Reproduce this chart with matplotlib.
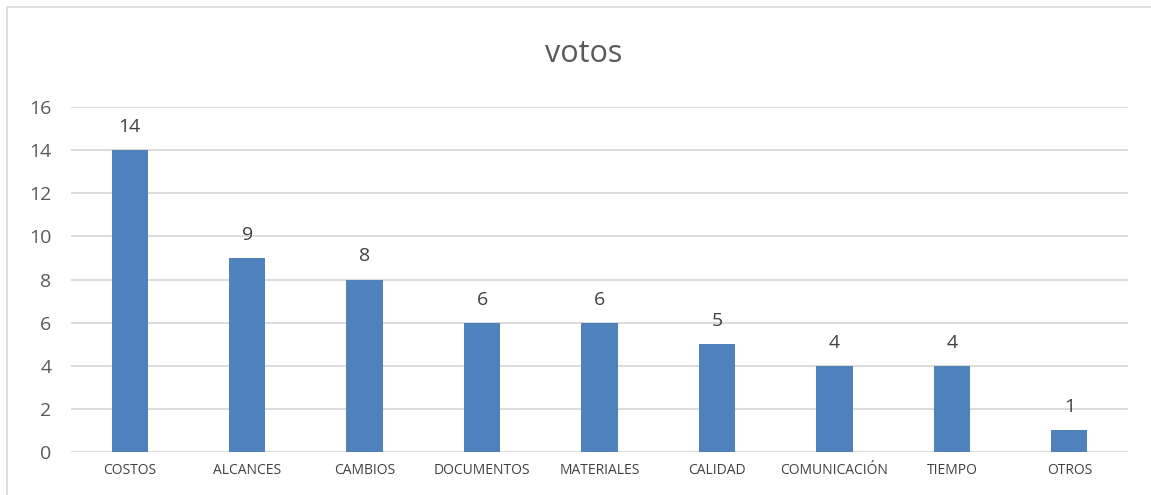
import matplotlib.pyplot as plt
import numpy as np

# data
categorias = ["COSTOS", "ALCANCES", "CAMBIOS", "DOCUMENTOS", "MATERIALES",
              "CALIDAD", "COMUNICACIÓN", "TIEMPO", "OTROS"]
votos = [14, 9, 8, 6, 6, 5, 4, 4, 1]

plt.rcParams['font.family'] = ['Open Sans', 'DejaVu Sans']

fig = plt.figure(figsize=(11.51, 4.95), dpi=100)
ax = fig.add_axes([0.0617, 0.0869, 0.9183, 0.6969])

x = np.arange(len(categorias))
bars = ax.bar(x, votos, width=0.31, color="#4F81BD", zorder=3)

# etiquetas de datos
for xi, v in zip(x, votos):
    ax.text(xi, v + 0.65, str(v), ha="center", va="bottom", fontsize=14, color="#404040")

ax.set_xlim(-0.5, len(categorias) - 0.5)
ax.set_ylim(0, 16)
ax.set_yticks(range(0, 17, 2))
ax.grid(axis="y", color="#D9D9D9", linewidth=1.3, zorder=0)
ax.set_xticks(x)
ax.set_xticklabels(categorias, fontsize=10, color="#404040")
ax.tick_params(axis="y", labelsize=14, labelcolor="#595959", length=0, pad=14)
ax.tick_params(axis="x", length=0, pad=8)
for s in ax.spines.values():
    s.set_visible(False)

fig.text(0.507, 0.89, "votos", ha="center", va="center", fontsize=22, color="#595959")

# borde del grafico
fig.patches.append(plt.Rectangle((0.006, -0.01), 1.0, 0.995, transform=fig.transFigure,
                                 fill=False, edgecolor="#D9D9D9", linewidth=1.2))

plt.savefig("out.png", dpi=100)
